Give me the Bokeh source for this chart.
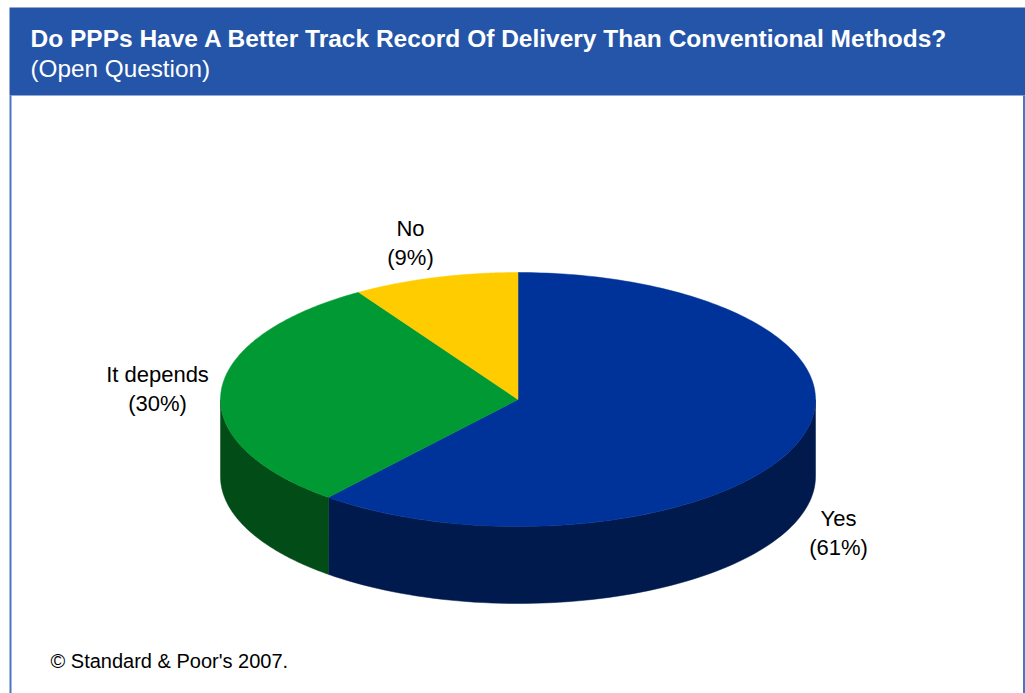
import numpy as np
from bokeh.plotting import figure
from bokeh.models import Range1d
from bokeh.core.properties import value
from bokeh.embed import file_html
from bokeh.resources import INLINE

categories = ["Yes", "It depends", "No"]
shares = [61, 30, 9]
label_pct = ["(61%)", "(30%)", "(9%)"]
top_colors = ["#003399", "#009933", "#FFCC00"]
side_colors = ["#001A4D", "#024D17", "#806600"]
title = "Do PPPs Have A Better Track Record Of Delivery Than Conventional Methods?"
subtitle = "(Open Question)"
source = "\u00a9 Standard & Poor's 2007."

W, H = 1025, 693
p = figure(width=W, height=H, output_backend="svg", toolbar_location=None,
           x_range=Range1d(0, W), y_range=Range1d(H, 0),
           x_axis_location=None, y_axis_location=None, min_border=0)
p.outline_line_color = None
p.grid.visible = False
p.background_fill_color = "white"

# frame
p.quad(left=[9], right=[1025], top=[7], bottom=[95], fill_color="#2455A8", line_color=None)
p.line([10, 10], [95, 693], line_color="#4A74C8", line_width=2)
p.line([1023.5, 1023.5], [95, 693], line_color="#4A74C8", line_width=2)

p.text([30], [38], text=[title], text_font=value("Liberation Sans"), text_font_style="bold",
       text_font_size="24.5px", text_color="white", text_baseline="middle")
p.text([30], [68], text=[subtitle], text_font=value("Liberation Sans"),
       text_font_size="24.3px", text_color="white", text_baseline="middle")
p.text([50], [660], text=[source], text_font=value("Liberation Sans"),
       text_font_size="20px", text_color="black", text_baseline="middle")

# 3D pie
cx, cy, rx, ry, depth = 517.5, 399, 297.5, 127, 77
fr = np.array(shares, dtype=float) / sum(shares)
ends = 90 - 360 * np.cumsum(fr)
starts = np.concatenate([[90], ends[:-1]])

def pt(t, dy=0.0):
    r = np.radians(t)
    return cx + rx * np.cos(r), cy - ry * np.sin(r) + dy

# sides (front half: angles in (-180, 0) mod 360)
for s, e, col in zip(starts, ends, side_colors):
    lo, hi = e, s
    segs = []
    for k in [-360, 0, 360]:
        a, b = max(lo, -180 + k), min(hi, 0 + k)
        if a < b:
            segs.append((a, b))
    for a, b in segs:
        ts = np.linspace(a, b, 80)
        xs_t, ys_t = pt(ts)
        xs_b, ys_b = pt(ts[::-1], depth)
        p.patch(np.concatenate([xs_t, xs_b]), np.concatenate([ys_t, ys_b]),
                fill_color=col, line_color=col, line_width=0.5)

# tops
for s, e, col in zip(starts, ends, top_colors):
    ts = np.linspace(s, e, 200)
    xs, ys = pt(ts)
    p.patch(np.concatenate([[cx], xs]), np.concatenate([[cy], ys]),
            fill_color=col, line_color=col, line_width=0.5)

# labels
lab_x = [838, 157, 410]
lab_y = [518, 374, 228]
for c, pc, x, y in zip(categories, label_pct, lab_x, lab_y):
    p.text([x], [y], text=[c], text_font=value("Liberation Sans"), text_font_size="22px",
           text_color="black", text_align="center", text_baseline="middle")
    p.text([x], [y + 29], text=[pc], text_font=value("Liberation Sans"), text_font_size="22px",
           text_color="black", text_align="center", text_baseline="middle")

open("out.html", "w").write(file_html(p, INLINE))
